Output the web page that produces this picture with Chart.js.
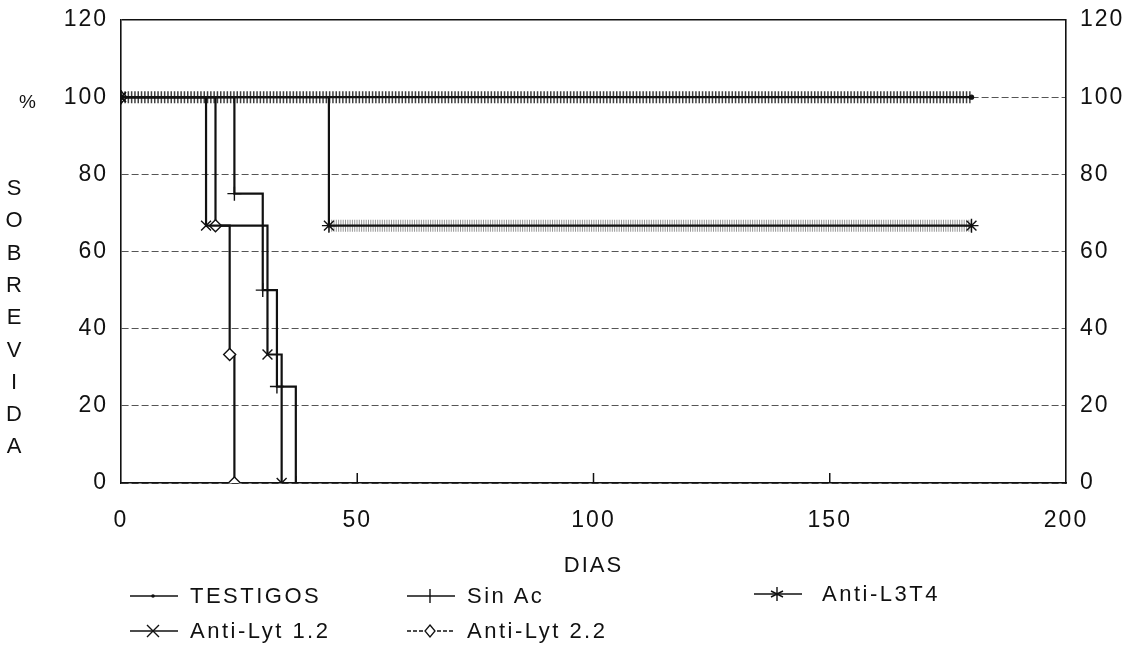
<!DOCTYPE html>
<html>
<head>
<meta charset="utf-8">
<script src="https://cdn.jsdelivr.net/npm/chart.js@4"></script>
<style>
  body { margin: 0; background: #fff; }
  #wrap { position: relative; width: 1134px; height: 649px; font-family: "Liberation Sans", Arial, sans-serif; color: #111; }
  canvas { position: absolute; left: 0; top: 0; }
  .lbl { position: absolute; font-size: 22px; letter-spacing: 2.5px; white-space: nowrap; line-height: 22px; }
  .ylet { position: absolute; left: 3px; width: 22px; text-align: center; font-size: 22px; line-height: 22px; }
  .leg { position: absolute; height: 22px; }
  .leg svg { position: absolute; left: 0; top: 0; }
  .leg span { position: absolute; top: 0; font-size: 22px; letter-spacing: 2.5px; white-space: nowrap; line-height: 22px; }
</style>
</head>
<body>
<div id="wrap">
  <canvas id="chart" width="1134" height="649"></canvas>
  <div class="lbl" style="left:19px; top:91px; font-size:19px; letter-spacing:0">%</div>
  <div id="ytitle"></div>
  <div id="legend"></div>
</div>
<script>
// Días y % de sobrevida de cada grupo
const diasTestigos = [0, 180];
const sobrevTestigos = [100, 100];

const diasSinAc = [0, 24, 30, 33, 37];
const sobrevSinAc = [100, 75, 50, 25, 0];

const diasL3T4 = [0, 44, 180];
const sobrevL3T4 = [100, 66.7, 66.7];

const diasLyt12 = [0, 18, 31, 34];
const sobrevLyt12 = [100, 66.7, 33.3, 0];

const diasLyt22 = [0, 20, 23, 24];
const sobrevLyt22 = [100, 66.7, 33.3, 0];

const ticksY = [0, 20, 40, 60, 80, 100, 120];
const ticksX = [0, 50, 100, 150, 200];

const puntos = (xs, ys) => xs.map((x, i) => ({ x: x, y: ys[i] }));

// título vertical
const letras = 'SOBREVIDA'.split('');
document.getElementById('ytitle').innerHTML = letras
  .map((l, i) => '<div class="ylet" style="top:' + (177 + i * 32.3) + 'px">' + l + '</div>')
  .join('');

const serie = (label, xs, ys, style, extra) => Object.assign({
  label: label,
  data: puntos(xs, ys),
  stepped: true,
  borderColor: '#111',
  borderWidth: 2.2,
  pointStyle: style,
  pointRadius: 7,
  pointBorderWidth: 1.4,
  pointBorderColor: '#111',
  pointBackgroundColor: '#fff',
  fill: false,
  order: 1
}, extra || {});

// bandas de marcadores densos (textura del original)
const textura = (xs, ys, color, dash) => ({
  label: '_tex',
  data: puntos(xs, ys),
  stepped: true,
  borderColor: color,
  borderWidth: 12,
  borderDash: dash,
  pointRadius: 0,
  fill: false,
  order: 10
});

const marcasX = {
  id: 'marcasX',
  afterDatasetsDraw(chart) {
    const { ctx, scales: { x, y } } = chart;
    ctx.save();
    ctx.strokeStyle = '#111';
    ctx.lineWidth = 1.5;
    ticksX.slice(1, -1).forEach(v => {
      const px = x.getPixelForValue(v);
      ctx.beginPath();
      ctx.moveTo(px, y.bottom);
      ctx.lineTo(px, y.bottom - 10);
      ctx.stroke();
    });
    ctx.restore();
  }
};

const espaciado = {
  id: 'espaciado',
  beforeDraw(chart) { chart.ctx.letterSpacing = '2px'; }
};

const fuente = { family: '"Liberation Sans", Arial, sans-serif', size: 23 };

const ajusteY = ancho => s => { s.width = ancho; s.paddingTop = 0; s.paddingBottom = 0; };

const chart = new Chart(document.getElementById('chart'), {
  type: 'line',
  data: {
    datasets: [
      serie('TESTIGOS', diasTestigos, sobrevTestigos, 'circle', { pointRadius: 2, pointBackgroundColor: '#111' }),
      serie('Sin Ac', diasSinAc, sobrevSinAc, 'cross'),
      serie('Anti-L3T4', diasL3T4, sobrevL3T4, 'star'),
      serie('Anti-Lyt 1.2', diasLyt12, sobrevLyt12, 'crossRot'),
      serie('Anti-Lyt 2.2', diasLyt22, sobrevLyt22, 'rectRot', { pointRadius: 6 }),
      textura(diasTestigos, sobrevTestigos, 'rgba(30,30,30,0.85)', [1.5, 1.8]),
      textura(diasL3T4.slice(1), sobrevL3T4.slice(1), 'rgba(80,80,80,0.6)', [1, 1.3])
    ]
  },
  options: {
    responsive: false,
    animation: false,
    layout: { padding: { top: 20, left: 0, right: 0, bottom: 0 } },
    plugins: { legend: { display: false }, tooltip: { enabled: false } },
    scales: {
      x: {
        type: 'linear',
        min: 0,
        max: 200,
        afterBuildTicks: s => { s.ticks = ticksX.map(v => ({ value: v })); },
        afterFit: s => { s.height = 166; s.paddingLeft = 0; s.paddingRight = 0; },
        ticks: { color: '#111', font: fuente, padding: 16, maxRotation: 0 },
        grid: { display: false },
        border: { display: true, color: '#111', width: 1.6 },
        title: { display: true, text: 'DIAS', color: '#111', font: { family: fuente.family, size: 22 }, padding: { top: 0, bottom: 70 } }
      },
      y: {
        min: 0,
        max: 120,
        afterBuildTicks: s => { s.ticks = ticksY.map(v => ({ value: v })); },
        afterFit: ajusteY(121),
        ticks: { color: '#111', font: fuente, padding: 13 },
        grid: {
          drawTicks: false,
          color: c => (c.tick && c.tick.value === 120) ? '#111' : '#555',
          lineWidth: c => (c.tick && c.tick.value === 120) ? 1.5 : 1
        },
        border: {
          display: true, color: '#111', width: 1.6,
          dash: c => (c.tick && c.tick.value === 120) ? [] : [7, 3]
        }
      },
      y2: {
        position: 'right',
        min: 0,
        max: 120,
        afterBuildTicks: s => { s.ticks = ticksY.map(v => ({ value: v })); },
        afterFit: ajusteY(68),
        ticks: { color: '#111', font: fuente, padding: 6 },
        grid: { display: false },
        border: { display: true, color: '#111', width: 1.6 }
      }
    }
  },
  plugins: [espaciado, marcasX]
});

// leyenda
const leyenda = [
  { label: 'TESTIGOS', x: 128, y: 585, m: 'dot' },
  { label: 'Sin Ac', x: 405, y: 585, m: 'cross' },
  { label: 'Anti-L3T4', x: 752, y: 583, m: 'star' },
  { label: 'Anti-Lyt 1.2', x: 128, y: 620, m: 'x' },
  { label: 'Anti-Lyt 2.2', x: 405, y: 620, m: 'diamond' }
];
const marcador = m => {
  const c = 'stroke="#111" stroke-width="1.4" fill="none"';
  if (m === 'dot') return '<circle cx="25" cy="11" r="1.8" fill="#111"/>';
  if (m === 'cross') return '<path d="M25 4V18" ' + c + '/>';
  if (m === 'star') return '<path d="M25 4V18M19 8L31 14M31 8L19 14" ' + c + '/>';
  if (m === 'x') return '<path d="M19 5L31 17M31 5L19 17" ' + c + '/>';
  return '<path d="M25 5L30 11L25 17L20 11Z" stroke="#111" stroke-width="1.3" fill="#fff"/>';
};
document.getElementById('legend').innerHTML = leyenda.map(it =>
  '<div class="leg" style="left:' + it.x + 'px; top:' + it.y + 'px">' +
  '<svg width="60" height="22"><path d="M2 11H50" stroke="#111" stroke-width="1.4"' +
  (it.m === 'diamond' ? ' stroke-dasharray="4 2"' : '') + '/>' + marcador(it.m) + '</svg>' +
  '<span style="left:' + (it.m === 'star' ? 70 : 62) + 'px">' + it.label + '</span></div>'
).join('');
</script>
</body>
</html>
